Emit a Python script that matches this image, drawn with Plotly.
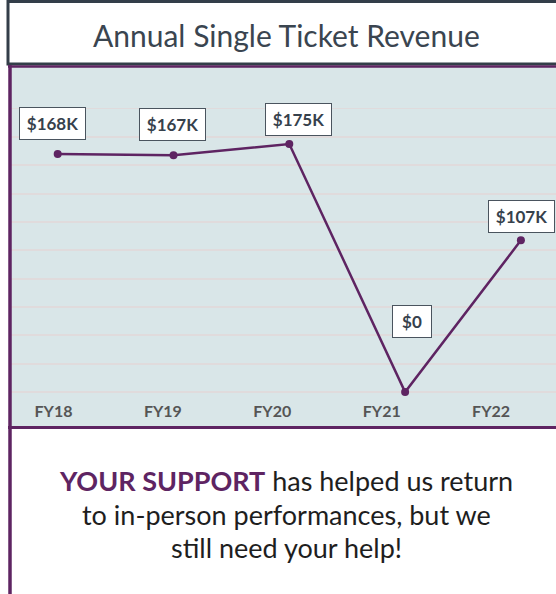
import plotly.graph_objects as go

categories = ["FY18", "FY19", "FY20", "FY21", "FY22"]
revenue = [168000, 167000, 175000, 0, 107000]
value_labels = ["$168K", "$167K", "$175K", "$0", "$107K"]
grid_values = [0, 20000, 40000, 60000, 80000, 100000, 120000, 140000, 160000, 180000, 200000]

title_text = "Annual Single Ticket Revenue"
message_lines = [
    "<b><span style='color:#5e2462'>YOUR SUPPORT</span></b> has helped us return",
    "to in-person performances, but we",
    "still need your help!",
]

W, H = 556, 594
PURPLE = "#5e2462"
DARK = "#36414c"
FONT = "Lato"


def px(x):
    return x / W


def py(y):
    return 1 - y / H


fig = go.Figure()
fig.add_trace(go.Scatter(
    x=categories, y=revenue, mode="lines+markers",
    line=dict(color=PURPLE, width=2.5),
    marker=dict(color=PURPLE, size=8),
    hoverinfo="skip", showlegend=False,
))
# carrier trace for the category label axis (invisible)
fig.add_trace(go.Scatter(
    x=list(range(len(categories))), y=revenue, xaxis="x2", mode="markers",
    marker=dict(opacity=0), hoverinfo="skip", showlegend=False,
))

# label offsets (pixels) for the value boxes
shifts = [(-5, 30), (-1, 31), (9, 25), (7, 71), (1, 24)]
annotations = []
for cat, val, lab, (dx, dy) in zip(categories, revenue, value_labels, shifts):
    annotations.append(dict(
        x=cat, y=val, xref="x", yref="y", text="<b>" + lab + "</b>",
        showarrow=False, xshift=dx, yshift=dy,
        width=(65 if len(lab) > 2 else 38), height=31,
        bgcolor="white", bordercolor="#4a545e", borderwidth=1, borderpad=0,
        font=dict(family=FONT, size=17, color=DARK),
        align="center", valign="middle",
    ))

annotations.append(dict(
    x=px(286), y=py(35), xref="paper", yref="paper", text=title_text,
    showarrow=False, xanchor="center", yanchor="middle",
    font=dict(family=FONT, size=30, color="#3a4550"),
))
for line, yc in zip(message_lines, [480, 514, 547]):
    annotations.append(dict(
        x=px(286), y=py(yc), xref="paper", yref="paper", text=line,
        showarrow=False, xanchor="center", yanchor="middle",
        font=dict(family=FONT, size=27, color="#1e1e1e"),
    ))

shapes = [
    # title box
    dict(type="rect", xref="paper", yref="paper", x0=px(8), x1=px(580), y0=py(1.5), y1=py(64),
         line=dict(color="#333e49", width=3), fillcolor="white", layer="above"),
    # purple line under title
    dict(type="line", xref="paper", yref="paper", x0=px(8), x1=px(580), y0=py(66.5), y1=py(66.5),
         line=dict(color=PURPLE, width=2.5), layer="above"),
    # chart bottom border
    dict(type="line", xref="paper", yref="paper", x0=px(8), x1=px(580), y0=py(427.5), y1=py(427.5),
         line=dict(color=PURPLE, width=3), layer="above"),
    # left purple border
    dict(type="line", xref="paper", yref="paper", x0=px(10), x1=px(10), y0=py(65), y1=py(600),
         line=dict(color=PURPLE, width=3.5), layer="above"),
]

x0_pt, step = 57.7, 115.8
left_px, right_px = 10, 556
lab0, labstep = 53.5, 109.4

fig.update_layout(
    width=W, height=H,
    margin=dict(l=0, r=0, t=0, b=0),
    paper_bgcolor="white",
    plot_bgcolor="#d9e6e8",
    xaxis=dict(
        domain=[px(left_px), 1], type="category",
        range=[(left_px - x0_pt) / step, (right_px - x0_pt) / step],
        showgrid=False, showticklabels=False, zeroline=False, showline=False, ticks="",
        fixedrange=True,
    ),
    xaxis2=dict(
        overlaying="x", anchor="free", position=py(400),
        range=[(left_px - lab0) / labstep, (right_px - lab0) / labstep],
        tickvals=list(range(len(categories))), ticktext=["<b>" + c + "</b>" for c in categories],
        tickfont=dict(family=FONT, size=16, color="#555555"),
        showgrid=False, zeroline=False, showline=False, ticks="",
        fixedrange=True,
    ),
    yaxis=dict(
        domain=[py(427), py(66)],
        range=[-24700, 230040],
        tickvals=grid_values, showticklabels=False,
        showgrid=True, gridcolor="#e0dbdc", gridwidth=1.8,
        zeroline=False, showline=False, ticks="", fixedrange=True,
    ),
    annotations=annotations,
    shapes=shapes,
)

fig.write_html(
    "out.html",
    config={"displayModeBar": False, "staticPlot": True},
    post_script="document.body.style.margin='0';document.body.style.overflow='hidden';",
)
